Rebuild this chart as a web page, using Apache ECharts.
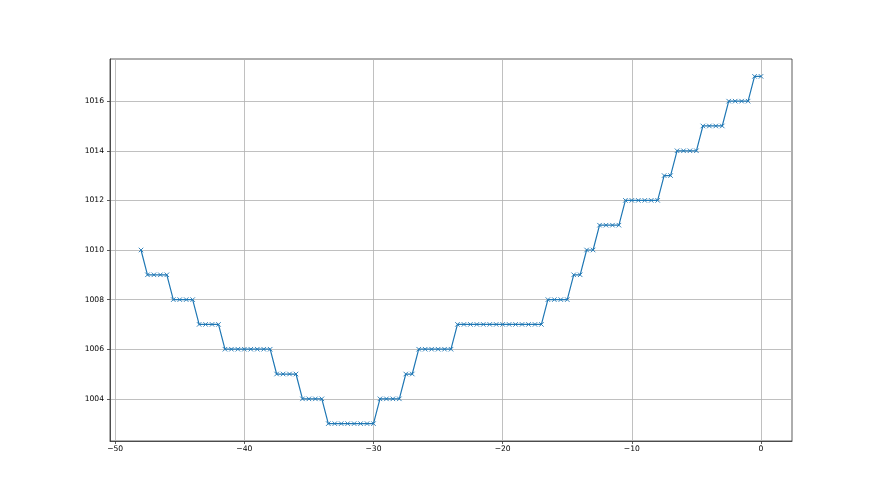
<!DOCTYPE html>
<html>
<head>
<meta charset="utf-8">
<script src="https://cdn.jsdelivr.net/npm/echarts@6/dist/echarts.min.js"></script>
<style>html,body{margin:0;padding:0;background:#fff}#c{width:880px;height:495px}</style>
</head>
<body>
<div id="c"></div>
<script>
// x positions: -48 .. 0 step 0.5
const xValues = [
  -48,
  -47.5,-47,-46.5,-46,
  -45.5,-45,-44.5,-44,
  -43.5,-43,-42.5,-42,
  -41.5,-41,-40.5,-40,-39.5,-39,-38.5,-38,
  -37.5,-37,-36.5,-36,
  -35.5,-35,-34.5,-34,
  -33.5,-33,-32.5,-32,-31.5,-31,-30.5,-30,
  -29.5,-29,-28.5,-28,
  -27.5,-27,
  -26.5,-26,-25.5,-25,-24.5,-24,
  -23.5,-23,-22.5,-22,-21.5,-21,-20.5,-20,-19.5,-19,-18.5,-18,-17.5,-17,
  -16.5,-16,-15.5,-15,
  -14.5,-14,
  -13.5,-13,
  -12.5,-12,-11.5,-11,
  -10.5,-10,-9.5,-9,-8.5,-8,
  -7.5,-7,
  -6.5,-6,-5.5,-5,
  -4.5,-4,-3.5,-3,
  -2.5,-2,-1.5,-1,
  -0.5,0
];
const yValues = [
  1010,
  1009,1009,1009,1009,
  1008,1008,1008,1008,
  1007,1007,1007,1007,
  1006,1006,1006,1006,1006,1006,1006,1006,
  1005,1005,1005,1005,
  1004,1004,1004,1004,
  1003,1003,1003,1003,1003,1003,1003,1003,
  1004,1004,1004,1004,
  1005,1005,
  1006,1006,1006,1006,1006,1006,
  1007,1007,1007,1007,1007,1007,1007,1007,1007,1007,1007,1007,1007,1007,
  1008,1008,1008,1008,
  1009,1009,
  1010,1010,
  1011,1011,1011,1011,
  1012,1012,1012,1012,1012,1012,
  1013,1013,
  1014,1014,1014,1014,
  1015,1015,1015,1015,
  1016,1016,1016,1016,
  1017,1017
];
const xTicks = [-50,-40,-30,-20,-10,0];
const yTicks = [1004,1006,1008,1010,1012,1014,1016];

const data = xValues.map((x,i)=>[x,yValues[i]]);
const chart = echarts.init(document.getElementById('c'), null, {renderer:'canvas'});
const lblStyle = {color:'#000', fontSize:7.6, fontFamily:'DejaVu Sans'};
chart.setOption({
  animation:false,
  backgroundColor:'#fff',
  grid:{left:110, right:88, top:59, bottom:54, show:true, borderColor:'#333', borderWidth:0.8, backgroundColor:'transparent'},
  xAxis:{
    type:'value', min:-50.4, max:2.4,
    axisLine:{show:true, onZero:false, lineStyle:{color:'#333', width:0.8}},
    axisTick:{show:true, length:3, inside:false, customValues:xTicks, lineStyle:{color:'#333', width:0.8}},
    axisLabel:{customValues:xTicks, margin:4, ...lblStyle, formatter:v=>String(v).replace('-','\u2212')},
    splitLine:{show:true, lineStyle:{color:'#b0b0b0', width:0.8}}
  },
  yAxis:{
    type:'value', min:1002.3, max:1017.7,
    axisLine:{show:true, onZero:false, lineStyle:{color:'#333', width:0.8}},
    axisTick:{show:true, length:3, inside:false, customValues:yTicks, lineStyle:{color:'#333', width:0.8}},
    axisLabel:{customValues:yTicks, margin:6, ...lblStyle, formatter:v=>String(v)},
    splitLine:{show:true, lineStyle:{color:'#b0b0b0', width:0.8}}
  },
  series:[{
    type:'line', data:data,
    symbol:'path://M0,0L10,10M10,0L0,10', symbolSize:4.5,
    showAllSymbol:true,
    lineStyle:{color:'#1f77b4', width:1.2},
    itemStyle:{color:'#1f77b4', borderColor:'#1f77b4', borderWidth:0.9}
  }]
});
</script>
</body>
</html>
